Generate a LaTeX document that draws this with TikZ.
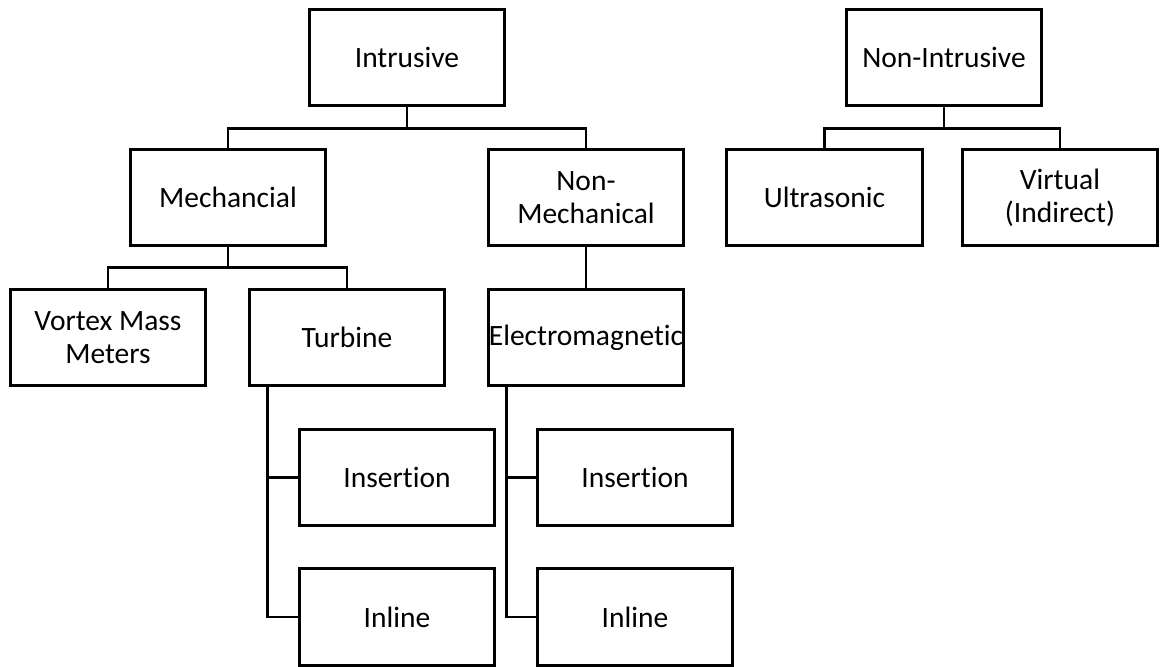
\documentclass[tikz,border=0pt]{standalone}
\usepackage{fontspec}
\setmainfont[Ligatures={NoCommon}]{Carlito}
\begin{document}
\begin{tikzpicture}[x=1pt,y=-1pt,
  box/.style={draw=black, line width=3pt, rectangle, minimum width=195.5pt, minimum height=96.5pt,
    inner sep=0pt, align=center, font=\fontsize{29.5}{33}\selectfont},
  conn/.style={draw=black, line width=2.8pt}]
\useasboundingbox (0,0) rectangle (1160,667);
\node[box] (intr) at (407,57.5) {Intrusive};
\node[box] (nonintr) at (944,57.5) {Non-Intrusive};
\node[box] (mech) at (228,197.5) {Mechancial};
\node[box] (nonmech) at (586,197.5) {Non-\\Mechanical};
\node[box] (ultra) at (824.5,197.5) {Ultrasonic};
\node[box] (virt) at (1060,197.5) {Virtual\\(Indirect)};
\node[box] (vortex) at (108,337.5) {Vortex Mass\\Meters};
\node[box] (turb) at (347,337.5) {Turbine};
\node[box] (elec) at (586,337.5) {Electromagnetic};
\node[box] (ins1) at (397,477.5) {Insertion};
\node[box] (inl1) at (397,617) {Inline};
\node[box] (ins2) at (635,477.5) {Insertion};
\node[box] (inl2) at (635,617) {Inline};
\draw[conn] (intr.south) -- ++(0,21) -| (mech.north);
\draw[conn] (intr.south) -- ++(0,21) -| (nonmech.north);
\draw[conn] (nonintr.south) -- ++(0,21) -| (ultra.north);
\draw[conn] (nonintr.south) -- ++(0,21) -| (virt.north);
\draw[conn] (mech.south) -- ++(0,20.5) -| (vortex.north);
\draw[conn] (mech.south) -- ++(0,20.5) -| (turb.north);
\draw[conn] (nonmech.south) -- (elec.north);
\draw[conn] ([xshift=20pt]turb.south west) |- (ins1.west);
\draw[conn] ([xshift=20pt]turb.south west) |- (inl1.west);
\draw[conn] ([xshift=20pt]elec.south west) |- (ins2.west);
\draw[conn] ([xshift=20pt]elec.south west) |- (inl2.west);
\end{tikzpicture}
\end{document}
